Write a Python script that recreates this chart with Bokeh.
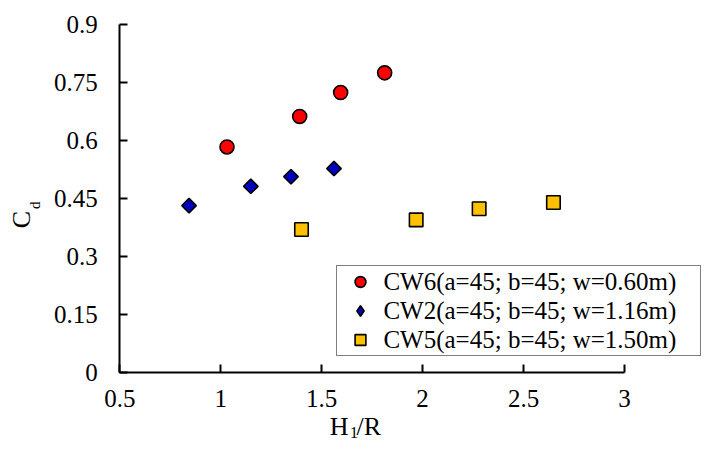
import math
from bokeh.plotting import figure
from bokeh.models import Range1d, FixedTicker, Legend, LegendItem, Label, CustomJSTickFormatter
from bokeh.embed import file_html
from bokeh.resources import INLINE

# ---- data ----
series_names = ["CW6(a=45; b=45; w=0.60m)",
                "CW2(a=45; b=45; w=1.16m)",
                "CW5(a=45; b=45; w=1.50m)"]
x_cw6 = [1.031, 1.391, 1.594, 1.812]
y_cw6 = [0.583, 0.662, 0.724, 0.775]
x_cw2 = [0.843, 1.149, 1.348, 1.561]
y_cw2 = [0.431, 0.481, 0.506, 0.527]
x_cw5 = [1.400, 1.968, 2.280, 2.648]
y_cw5 = [0.369, 0.394, 0.423, 0.439]
x_ticks = [0.5, 1, 1.5, 2, 2.5, 3]
x_tick_labels = ["0.5", "1", "1.5", "2", "2.5", "3"]
y_ticks = [0, 0.15, 0.3, 0.45, 0.6, 0.75, 0.9]
y_tick_labels = ["0", "0.15", "0.3", "0.45", "0.6", "0.75", "0.9"]

FONT = "Liberation Serif"

# ---- layout (pixels) ----
W, H = 703, 441
AX_L, AX_R = 119.3, 624.0      # screen x of first / last x tick
AX_T, AX_B = 24.1, 371.5       # screen y of last / first y tick
ppu_x = (AX_R - AX_L) / (x_ticks[-1] - x_ticks[0])
ppu_y = (AX_B - AX_T) / (y_ticks[-1] - y_ticks[0])
x_range = Range1d(x_ticks[0] - AX_L / ppu_x, x_ticks[-1] + (W - AX_R) / ppu_x)
y_range = Range1d(y_ticks[0] - (H - AX_B) / ppu_y, y_ticks[-1] + AX_T / ppu_y)

p = figure(width=W, height=H, x_range=x_range, y_range=y_range,
           output_backend="svg", toolbar_location=None,
           min_border_left=0, min_border_right=0,
           min_border_top=0, min_border_bottom=0)
p.outline_line_color = None
p.grid.visible = False
p.background_fill_color = "white"
p.border_fill_color = "white"

xa, ya = p.xaxis[0], p.yaxis[0]
xa.fixed_location = y_ticks[0]
ya.fixed_location = x_ticks[0]
xa.bounds = (x_ticks[0], x_ticks[-1])
ya.bounds = (y_ticks[0], y_ticks[-1])
for ax, ticks, labs, standoff in ((xa, x_ticks, x_tick_labels, 18),
                                  (ya, y_ticks, y_tick_labels, 22)):
    ax.ticker = FixedTicker(ticks=ticks)
    ax.formatter = CustomJSTickFormatter(args=dict(labs=labs), code="return labs[index];")
    ax.axis_line_color = "black"
    ax.axis_line_width = 2
    ax.major_tick_in = 8
    ax.major_tick_out = 0
    ax.major_tick_line_color = "black"
    ax.major_tick_line_width = 2
    ax.minor_tick_line_color = None
    ax.major_label_text_font = FONT
    ax.major_label_text_font_size = "25px"
    ax.major_label_text_color = "black"
    ax.major_label_standoff = standoff

r1 = p.scatter(x_cw6, y_cw6, marker="circle", size=14,
               fill_color="#FF0000", line_color="black", line_width=1.6)
r2 = p.scatter(x_cw2, y_cw2, marker="square", angle=math.pi / 4, size=10.2,
               fill_color="#0000C0", line_color="black", line_width=1.6)
r3 = p.scatter(x_cw5, y_cw5, marker="square", size=13.5,
               fill_color="#FFC000", line_color="black", line_width=1.6)
# legend swatch for the diamond series (legend swatches ignore marker angle)
r2_key = p.scatter(x_cw2, y_cw2, marker="diamond", size=14, visible=False,
                   fill_color="#0000C0", line_color="black", line_width=1.6)

legend = Legend(items=[LegendItem(label=series_names[0], renderers=[r1]),
                       LegendItem(label=series_names[1], renderers=[r2_key]),
                       LegendItem(label=series_names[2], renderers=[r3])],
                location=(336.4, 85))
legend.click_policy = "none"
legend.padding = 1
legend.spacing = 0
legend.margin = 0
legend.glyph_width = 44
legend.glyph_height = 27
legend.label_height = 29
legend.label_width = 316
legend.label_standoff = 1
legend.label_text_font = FONT
legend.label_text_font_size = "25px"
legend.label_text_color = "black"
legend.border_line_color = "black"
legend.border_line_width = 1.6
legend.background_fill_color = "white"
legend.background_fill_alpha = 1
legend.inactive_fill_alpha = 0
p.add_layout(legend)

# axis titles (with subscripts), screen units from bottom-left of canvas
title_parts = [
    dict(x=329.3, y=15.0, text="H", size="26px", angle=0),
    dict(x=349.5, y=9.5, text="1", size="16px", angle=0),
    dict(x=356.0, y=15.0, text="/R", size="26px", angle=0),
    dict(x=20.5, y=213.3, text="C", size="26px", angle=math.pi / 2),
    dict(x=34.0, y=232.6, text="d", size="15px", angle=math.pi / 2),
]
for t in title_parts:
    p.add_layout(Label(x=t["x"], y=t["y"], x_units="screen", y_units="screen",
                       text=t["text"], text_font=FONT, text_font_size=t["size"],
                       text_color="black", angle=t["angle"],
                       text_align="left", text_baseline="alphabetic"))

open("out.html", "w").write(file_html(p, INLINE))
